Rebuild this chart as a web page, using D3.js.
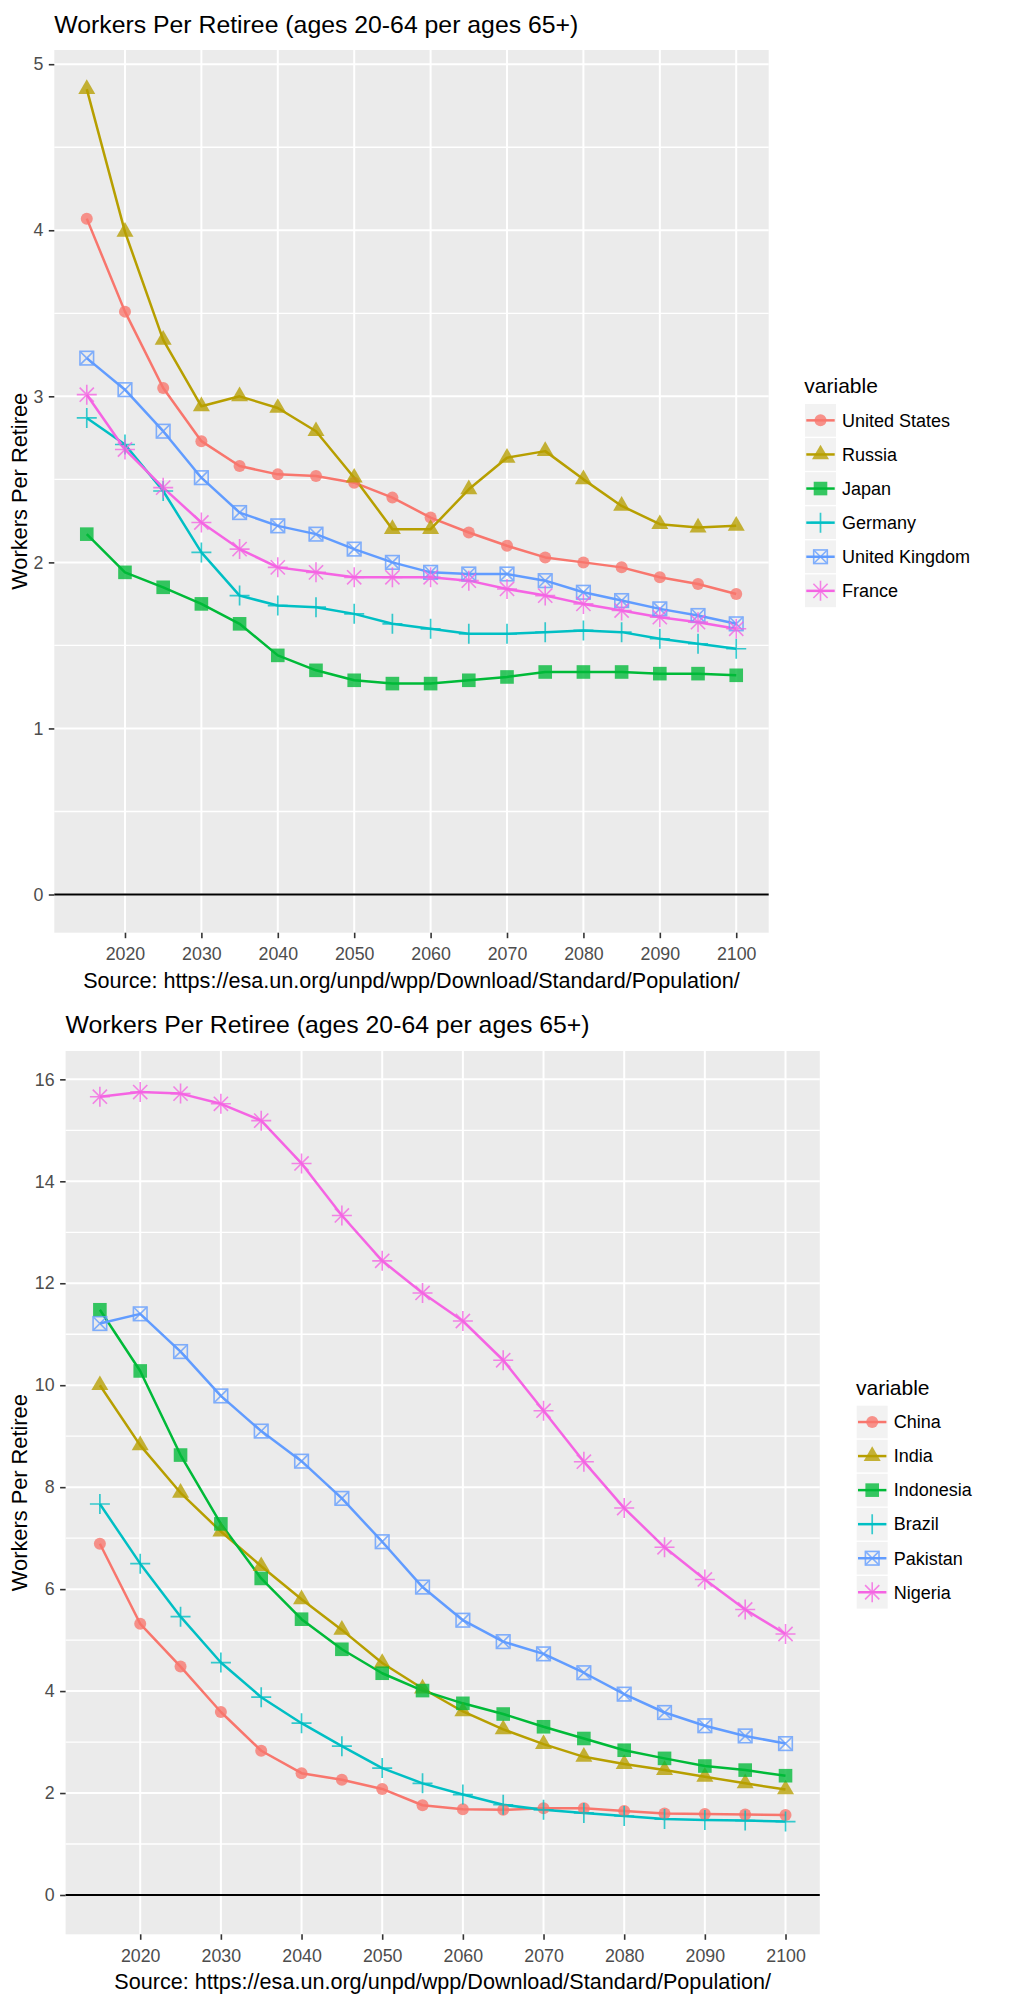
<!DOCTYPE html>
<html><head><meta charset="utf-8">
<script src="https://cdn.jsdelivr.net/npm/d3@7"></script>
<style>
body{margin:0;background:#fff;}
svg{display:block;}
text{font-family:"Liberation Sans",Arial,Helvetica,sans-serif;}
</style>
</head><body>
<svg id="c" width="1013" height="2000"></svg>
<script>
// ---------------- DATA ----------------
const years = [2015,2020,2025,2030,2035,2040,2045,2050,2055,2060,2065,2070,2075,2080,2085,2090,2095,2100];
const xTickYears = [2020,2030,2040,2050,2060,2070,2080,2090,2100];

const chartTitle = "Workers Per Retiree (ages 20-64 per ages 65+)";
const yAxisTitle = "Workers Per Retiree";
const sourceLabel = "Source: https://esa.un.org/unpd/wpp/Download/Standard/Population/";
const legendTitle = "variable";

// Top chart
const topCountries = ["United States","Russia","Japan","Germany","United Kingdom","France"];
const unitedStates  = [4.07,3.51,3.05,2.73,2.58,2.53,2.52,2.48,2.39,2.27,2.18,2.10,2.03,2.00,1.97,1.91,1.87,1.81];
const russia        = [4.85,3.99,3.34,2.94,3.00,2.93,2.79,2.51,2.20,2.20,2.44,2.63,2.67,2.50,2.34,2.23,2.21,2.22];
const japan         = [2.17,1.94,1.85,1.75,1.63,1.44,1.35,1.29,1.27,1.27,1.29,1.31,1.34,1.34,1.34,1.33,1.33,1.32];
const germany       = [2.87,2.71,2.43,2.06,1.80,1.74,1.73,1.69,1.63,1.60,1.57,1.57,1.58,1.59,1.58,1.54,1.51,1.48];
const unitedKingdom = [3.23,3.04,2.79,2.51,2.30,2.22,2.17,2.08,2.00,1.94,1.93,1.93,1.89,1.82,1.77,1.72,1.68,1.63];
const france        = [3.01,2.68,2.45,2.24,2.08,1.97,1.94,1.91,1.91,1.91,1.89,1.84,1.80,1.75,1.71,1.67,1.64,1.60];
const topYTicks = [0,1,2,3,4,5];
const topYMinor = [0.5,1.5,2.5,3.5,4.5];

// Bottom chart
const bottomCountries = ["China","India","Indonesia","Brazil","Pakistan","Nigeria"];
const china     = [6.89,5.32,4.48,3.59,2.83,2.39,2.26,2.08,1.76,1.68,1.67,1.70,1.70,1.65,1.60,1.59,1.58,1.57];
const india     = [10.00,8.82,7.89,7.13,6.45,5.80,5.20,4.55,4.05,3.60,3.25,2.96,2.71,2.57,2.45,2.32,2.19,2.07];
const indonesia = [11.48,10.28,8.63,7.28,6.21,5.41,4.82,4.35,4.01,3.76,3.55,3.30,3.07,2.84,2.68,2.53,2.45,2.34];
const brazil    = [7.67,6.50,5.46,4.56,3.88,3.37,2.92,2.49,2.19,1.97,1.77,1.67,1.61,1.55,1.49,1.47,1.46,1.44];
const pakistan  = [11.21,11.40,10.66,9.79,9.10,8.51,7.78,6.93,6.04,5.39,4.97,4.73,4.36,3.94,3.58,3.32,3.12,2.97];
const nigeria   = [15.66,15.75,15.72,15.52,15.19,14.35,13.33,12.44,11.81,11.26,10.49,9.50,8.50,7.59,6.82,6.19,5.60,5.12];
const bottomYTicks = [0,2,4,6,8,10,12,14,16];
const bottomYMinor = [1,3,5,7,9,11,13,15];

const seriesColors = ["#F8766D","#B79F00","#00BA38","#00BFC4","#619CFF","#F564E3"];
const seriesShapes = ["circle","triangle","square","plus","squareCross","asterisk"];

// ---------------- DRAWING ----------------
const svg = d3.select("#c");
const FONT = '"Liberation Sans",Arial,Helvetica,sans-serif';

function drawShape(g, shape, x, y, color) {
  switch (shape) {
    case "circle":
      g.append("circle").attr("cx", x).attr("cy", y).attr("r", 6).attr("fill", color);
      break;
    case "triangle":
      g.append("path").attr("d", `M${x},${y-9.8}L${x+8.5},${y+4.9}L${x-8.5},${y+4.9}Z`).attr("fill", color);
      break;
    case "square":
      g.append("rect").attr("x", x-6.8).attr("y", y-6.8).attr("width", 13.6).attr("height", 13.6).attr("fill", color);
      break;
    case "plus":
      g.append("path").attr("d", `M${x-10},${y}H${x+10}M${x},${y-10}V${y+10}`)
        .attr("stroke", color).attr("stroke-width", 1.7).attr("fill", "none");
      break;
    case "squareCross":
      g.append("rect").attr("x", x-6.8).attr("y", y-6.8).attr("width", 13.6).attr("height", 13.6)
        .attr("stroke", color).attr("stroke-width", 1.6).attr("fill", "none");
      g.append("path").attr("d", `M${x-6.8},${y-6.8}L${x+6.8},${y+6.8}M${x-6.8},${y+6.8}L${x+6.8},${y-6.8}`)
        .attr("stroke", color).attr("stroke-width", 1.6).attr("fill", "none");
      break;
    case "asterisk": {
      const a = 10, b = 7.1;
      g.append("path").attr("d", `M${x-a},${y}H${x+a}M${x},${y-a}V${y+a}M${x-b},${y-b}L${x+b},${y+b}M${x-b},${y+b}L${x+b},${y-b}`)
        .attr("stroke", color).attr("stroke-width", 1.6).attr("fill", "none");
      break;
    }
  }
}

function drawChart(cfg) {
  const { panel, yDomain, names, series, yTicks, yMinor, titleY, legend } = cfg;
  const x = d3.scaleLinear().domain([2010.75, 2104.25]).range([panel.left, panel.right]);
  const y = d3.scaleLinear().domain(yDomain).range([panel.bottom, panel.top]);
  const root = svg.append("g");

  root.append("text").attr("x", panel.left).attr("y", titleY)
    .attr("font-size", 24.8).attr("fill", "#000").text(chartTitle);

  root.append("rect").attr("x", panel.left).attr("y", panel.top)
    .attr("width", panel.right - panel.left).attr("height", panel.bottom - panel.top).attr("fill", "#EBEBEB");

  const grid = root.append("g").attr("stroke", "#fff").attr("fill", "none");
  yMinor.forEach(v => grid.append("line").attr("x1", panel.left).attr("x2", panel.right)
    .attr("y1", y(v)).attr("y2", y(v)).attr("stroke-width", 1.3));
  yTicks.forEach(v => grid.append("line").attr("x1", panel.left).attr("x2", panel.right)
    .attr("y1", y(v)).attr("y2", y(v)).attr("stroke-width", 2));
  xTickYears.forEach(v => grid.append("line").attr("y1", panel.top).attr("y2", panel.bottom)
    .attr("x1", x(v)).attr("x2", x(v)).attr("stroke-width", 2));

  root.append("line").attr("x1", panel.left).attr("x2", panel.right)
    .attr("y1", y(0)).attr("y2", y(0)).attr("stroke", "#000").attr("stroke-width", 2.2);

  const xAxis = d3.axisBottom(x).tickValues(xTickYears).tickFormat(d3.format("d")).tickSize(5.5).tickPadding(9.2);
  const gx = root.append("g").attr("transform", `translate(0,${panel.bottom})`).call(xAxis);
  const yAxis = d3.axisLeft(y).tickValues(yTicks).tickFormat(d3.format("d")).tickSize(5.5).tickPadding(5.5);
  const gy = root.append("g").attr("transform", `translate(${panel.left},0)`).call(yAxis);
  [gx, gy].forEach(g => {
    g.select(".domain").remove();
    g.attr("font-family", FONT).attr("font-size", 17.8);
    g.selectAll(".tick line").attr("stroke", "#333333").attr("stroke-width", 1.6);
    g.selectAll(".tick text").attr("fill", "#4D4D4D");
  });

  root.append("text").attr("x", (panel.left + panel.right) / 2).attr("y", panel.bottom + 55)
    .attr("text-anchor", "middle").attr("font-size", 21.6).attr("fill", "#000").text(sourceLabel);
  const yc = (panel.top + panel.bottom) / 2;
  root.append("text").attr("transform", `translate(27,${yc}) rotate(-90)`)
    .attr("text-anchor", "middle").attr("font-size", 21.8).attr("fill", "#000").text(yAxisTitle);

  const line = d3.line().x(d => x(d[0])).y(d => y(d[1]));
  series.forEach((vals, i) => {
    root.append("path").datum(years.map((yr, k) => [yr, vals[k]]))
      .attr("d", line).attr("fill", "none").attr("stroke", seriesColors[i])
      .attr("stroke-width", 2.5).attr("stroke-linejoin", "round");
  });
  series.forEach((vals, i) => {
    const g = root.append("g").attr("opacity", 0.78);
    years.forEach((yr, k) => drawShape(g, seriesShapes[i], x(yr), y(vals[k]), seriesColors[i]));
  });

  const lg = root.append("g");
  lg.append("text").attr("x", legend.x).attr("y", legend.titleY).attr("font-size", 21)
    .attr("fill", "#000").text(legendTitle);
  names.forEach((name, i) => {
    const ky = legend.keyTop + i * legend.keyH;
    lg.append("rect").attr("x", legend.x + 0.7).attr("y", ky + 0.7)
      .attr("width", legend.keyW - 1.4).attr("height", legend.keyH - 1.4)
      .attr("fill", "#F2F2F2");
    const cx = legend.x + legend.keyW / 2, cy = ky + legend.keyH / 2;
    lg.append("line").attr("x1", legend.x + 2).attr("x2", legend.x + legend.keyW - 2)
      .attr("y1", cy).attr("y2", cy).attr("stroke", seriesColors[i]).attr("stroke-width", 2.5);
    const pg = lg.append("g").attr("opacity", 0.78);
    drawShape(pg, seriesShapes[i], cx, cy, seriesColors[i]);
    lg.append("text").attr("x", legend.x + legend.keyW + 5.3).attr("y", cy + 6.3)
      .attr("font-size", 18).attr("fill", "#000").text(name);
  });
}

drawChart({
  panel: { left: 54.3, right: 768.7, top: 50, bottom: 932.7 },
  yDomain: [-0.23, 5.0855],
  names: topCountries,
  series: [unitedStates, russia, japan, germany, unitedKingdom, france],
  yTicks: topYTicks, yMinor: topYMinor,
  titleY: 33,
  legend: { x: 804.3, titleY: 393, keyTop: 403.3, keyH: 34.1, keyW: 32.4 }
});

drawChart({
  panel: { left: 65.6, right: 819.8, top: 1051, bottom: 1934.3 },
  yDomain: [-0.771, 16.556],
  names: bottomCountries,
  series: [china, india, indonesia, brazil, pakistan, nigeria],
  yTicks: bottomYTicks, yMinor: bottomYMinor,
  titleY: 1033,
  legend: { x: 856, titleY: 1395, keyTop: 1405, keyH: 34.05, keyW: 32.4 }
});
</script>
</body></html>
